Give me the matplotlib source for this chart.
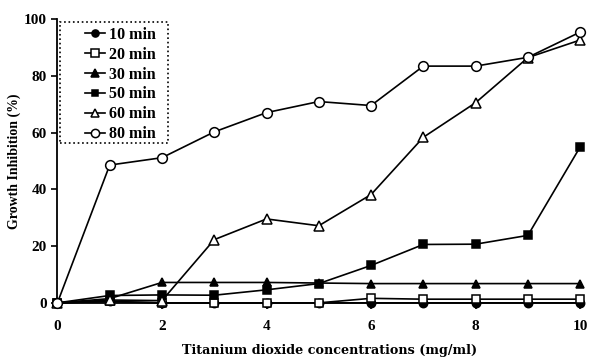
import matplotlib.pyplot as plt
from matplotlib.patches import Rectangle
import numpy as np

# concentrations (mg/ml)
conc = [0, 1, 2, 3, 4, 5, 6, 7, 8, 9, 10]

# growth inhibition (%) for each exposure time
min10 = [0, 0.5, 0, 0, 0, 0, 0, 0, 0, 0, 0]
min20 = [0, 0.5, 0, 0, 0, 0, 1.6, 1.3, 1.3, 1.3, 1.3]
min30 = [0, 1.5, 7.2, 7.2, 7.2, 7.0, 6.8, 6.8, 6.8, 6.8, 6.8]
min50 = [0, 2.6, 2.8, 2.7, 4.6, 6.8, 13.2, 20.6, 20.7, 23.8, 55.0]
min60 = [0, 1.0, 0.8, 22.3, 29.6, 27.2, 38.2, 58.4, 70.6, 86.5, 92.7]
min80 = [0, 48.6, 51.2, 60.3, 67.1, 71.0, 69.6, 83.5, 83.5, 86.6, 95.5]

labels = ["10 min", "20 min", "30 min", "50 min", "60 min", "80 min"]

plt.rcParams['font.family'] = ['Liberation Serif', 'DejaVu Serif']
plt.rcParams['font.weight'] = 'bold'

fig = plt.figure(figsize=(5.92, 3.58), dpi=100)
ax = fig.add_axes([0.097, 0.154, 0.883, 0.792])

series = [
    (min10, 'o', 'black', 6),
    (min20, 's', 'white', 6),
    (min30, '^', 'black', 6),
    (min50, 's', 'black', 5.5),
    (min60, '^', 'white', 6.5),
    (min80, 'o', 'white', 7),
]
for (vals, mk, fc, ms), lab in zip(series, labels):
    ax.plot(conc, vals, color='black', lw=1.2, marker=mk, markersize=ms,
            markerfacecolor=fc, markeredgecolor='black', markeredgewidth=1.1,
            label=lab, clip_on=False, zorder=3)

ax.set_xlim(0, 10)
ax.set_ylim(0, 100)
ax.set_xticks([0, 2, 4, 6, 8, 10])
ax.set_yticks([0, 20, 40, 60, 80, 100])
ax.tick_params(direction='out', length=4, width=1.2, labelsize=11)
ax.tick_params(axis='x', pad=8)
for lbl in ax.get_xticklabels() + ax.get_yticklabels():
    lbl.set_fontweight('bold')
ax.spines['top'].set_visible(False)
ax.spines['right'].set_visible(False)
ax.spines['left'].set_linewidth(1.3)
ax.spines['bottom'].set_linewidth(1.3)

ax.set_xlabel("Titanium dioxide concentrations (mg/ml)", fontsize=9.2,
              fontweight='bold', family='DejaVu Serif')
ax.xaxis.set_label_coords(0.52, -0.145)
ax.set_ylabel("Growth Inhibition (%)", fontsize=10, fontweight='bold',
              labelpad=2)

# legend without frame, dotted box drawn around it
leg = ax.legend(loc='upper left', bbox_to_anchor=(0.043, 0.99),
                borderaxespad=0, frameon=False, numpoints=1,
                handlelength=1.3, handletextpad=0.25, labelspacing=0.24,
                fontsize=11.5, borderpad=0.3, markerscale=0.85)
for t in leg.get_texts():
    t.set_fontweight('bold')
ax.add_patch(Rectangle((0.005, 0.564), 0.207, 0.427, transform=ax.transAxes,
                       fill=False, edgecolor='black', linestyle=':',
                       linewidth=1.2, clip_on=False, zorder=4))

fig.savefig("out.png", dpi=100)
